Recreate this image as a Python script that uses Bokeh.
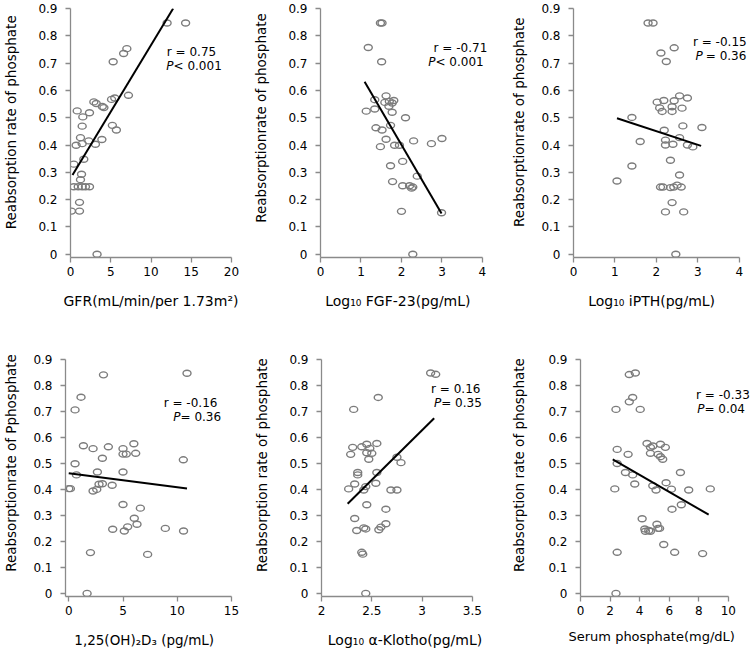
from bokeh.plotting import figure
from bokeh.layouts import column, row
from bokeh.models import FixedTicker, NumeralTickFormatter, Label, Range1d, Title
from bokeh.embed import file_html
from bokeh.resources import INLINE

FONT = "DejaVu Sans"
NBSP = "\u00a0"

# ---------------- data ----------------
y_ticks = [0, 0.1, 0.2, 0.3, 0.4, 0.5, 0.6, 0.7, 0.8, 0.9]

# Panel 1: GFR
gfr_x = [0.83, 2.9, 3.2, 3.95, 4.15, 5.1, 5.5, 7.2, 2.36, 1.53, 1.45, 5.2, 5.7, 1.24, 0.7,
         1.45, 2.27, 3.1, 3.9, 0.41, 1.65, 1.37, 1.24, 0.41, 0.96, 1.45, 1.86, 2.36, 1.12,
         0.12, 1.12, 5.3, 6.6, 7.0, 12.0, 14.3, 3.3]
gfr_y = [0.525, 0.558, 0.552, 0.541, 0.537, 0.567, 0.572, 0.582, 0.518, 0.503, 0.469, 0.472,
         0.455, 0.427, 0.399, 0.405, 0.415, 0.403, 0.42, 0.33, 0.348, 0.293, 0.273, 0.247,
         0.247, 0.247, 0.247, 0.247, 0.19, 0.158, 0.158, 0.705, 0.735, 0.753, 0.847, 0.847, 0.0]
gfr_fit_x = [0.25, 12.75]
gfr_fit_y = [0.29, 0.9]

# Panel 2: Log10 FGF-23
fgf_x = [1.48, 1.52, 1.18, 1.51, 1.62, 1.34, 1.59, 1.70, 1.81, 1.77, 1.69, 1.34, 1.13, 1.77,
         2.10, 1.37, 1.52, 1.73, 1.62, 1.48, 1.83, 1.95, 2.30, 2.74, 3.0, 1.73, 2.03, 2.39,
         1.78, 2.03, 2.2, 2.25, 2.28, 2.0, 2.99, 2.28]
fgf_y = [0.847, 0.847, 0.757, 0.705, 0.58, 0.566, 0.556, 0.56, 0.563, 0.554, 0.542, 0.532,
         0.524, 0.52, 0.50, 0.463, 0.455, 0.472, 0.421, 0.394, 0.399, 0.399, 0.415, 0.405,
         0.424, 0.324, 0.34, 0.286, 0.266, 0.251, 0.251, 0.242, 0.246, 0.157, 0.152, 0.0]
fgf_fit_x = [1.09, 2.99]
fgf_fit_y = [0.632, 0.149]

# Panel 3: Log10 iPTH
pth_x = [1.80, 1.92, 2.43, 2.11, 2.24, 2.02, 2.18, 2.08, 2.14, 2.56, 2.75, 2.43, 2.38, 2.38,
         2.62, 1.41, 2.64, 3.10, 2.19, 1.61, 2.22, 2.56, 2.22, 2.40, 2.75, 2.88, 2.34, 1.41,
         1.05, 2.56, 2.10, 2.16, 2.34, 2.42, 2.50, 2.60, 2.38, 2.22, 2.66, 2.47]
pth_y = [0.847, 0.847, 0.756, 0.737, 0.706, 0.557, 0.563, 0.536, 0.523, 0.58, 0.572, 0.562,
         0.54, 0.523, 0.535, 0.501, 0.47, 0.464, 0.454, 0.413, 0.418, 0.427, 0.40, 0.403,
         0.40, 0.393, 0.344, 0.323, 0.268, 0.29, 0.246, 0.246, 0.244, 0.246, 0.253, 0.246,
         0.189, 0.155, 0.155, 0.0]
pth_fit_x = [1.05, 3.08]
pth_fit_y = [0.498, 0.397]

# Panel 4: 1,25(OH)2D3
vd_x = [3.2, 10.9, 1.13, 0.58, 1.35, 2.24, 3.65, 5.0, 6.0, 3.1, 5.0, 5.3, 6.17, 10.56, 0.58,
        0.71, 2.64, 5.0, 0.0, 0.15, 2.24, 2.58, 2.79, 3.1, 4.0, 5.0, 6.6, 6.04, 6.29, 4.05,
        5.43, 5.12, 8.9, 10.58, 2.0, 7.27, 1.69]
vd_y = [0.841, 0.847, 0.755, 0.706, 0.568, 0.557, 0.564, 0.557, 0.576, 0.52, 0.536, 0.536,
        0.539, 0.514, 0.499, 0.456, 0.467, 0.467, 0.403, 0.403, 0.394, 0.40, 0.42, 0.422,
        0.416, 0.342, 0.328, 0.289, 0.266, 0.247, 0.256, 0.24, 0.25, 0.24, 0.157, 0.150, 0.0]
vd_fit_x = [0.0, 10.9]
vd_fit_y = [0.462, 0.404]

# Panel 5: Log10 alpha-Klotho
kl_x = [3.085, 3.135, 2.564, 2.32, 2.31, 2.29, 2.40, 2.45, 2.48, 2.45, 2.50, 2.55, 2.47, 2.75,
        2.79, 2.36, 2.36, 2.55, 2.33, 2.27, 2.42, 2.44, 2.54, 2.69, 2.75, 2.45, 2.64, 2.33,
        2.35, 2.42, 2.44, 2.57, 2.59, 2.64, 2.40, 2.41, 2.44]
kl_y = [0.848, 0.843, 0.754, 0.708, 0.562, 0.535, 0.564, 0.574, 0.558, 0.541, 0.539, 0.577,
        0.516, 0.524, 0.503, 0.465, 0.456, 0.465, 0.421, 0.402, 0.398, 0.411, 0.424, 0.398,
        0.398, 0.341, 0.324, 0.288, 0.242, 0.252, 0.248, 0.245, 0.255, 0.268, 0.158, 0.151, 0.0]
kl_fit_x = [2.26, 3.12]
kl_fit_y = [0.345, 0.674]

# Panel 6: Serum phosphate
sp_x = [3.3, 3.71, 3.53, 3.3, 2.40, 4.04, 2.48, 3.22, 4.50, 4.73, 4.89, 4.73, 5.41, 5.74, 5.25,
        5.41, 5.56, 2.48, 3.04, 3.53, 3.67, 2.32, 4.89, 5.11, 5.79, 6.15, 6.76, 7.32, 8.78,
        6.82, 6.19, 4.17, 4.35, 4.39, 4.62, 4.73, 5.17, 5.24, 5.35, 5.63, 2.48, 6.37, 8.26, 2.40]
sp_y = [0.842, 0.848, 0.754, 0.737, 0.708, 0.708, 0.554, 0.535, 0.577, 0.562, 0.567, 0.539,
        0.574, 0.562, 0.535, 0.526, 0.516, 0.50, 0.465, 0.456, 0.421, 0.402, 0.414, 0.398,
        0.426, 0.401, 0.465, 0.398, 0.402, 0.341, 0.324, 0.287, 0.248, 0.239, 0.242, 0.239,
        0.266, 0.25, 0.25, 0.188, 0.158, 0.158, 0.153, 0.0]
sp_fit_x = [2.18, 8.67]
sp_fit_y = [0.516, 0.303]

x_ticks_gfr = [0, 5, 10, 15, 20]
x_ticks_fgf = [0, 1, 2, 3, 4]
x_ticks_pth = [0, 1, 2, 3, 4]
x_ticks_vd = [0, 5, 10, 15]
x_ticks_kl = [2, 2.5, 3, 3.5]
x_ticks_sp = [0, 2, 4, 6, 8, 10]

AXIS_GRAY = "#8a8a8a"
PT_GRAY = "#7c7c7c"


def panel(xs, ys, fx, fy, xr, xbounds, xticks, xlabel, ylabel, r_text, p_text,
          width, height, left, right, top, bottom, ylab_std, ylab_pad, xlab_std, xlab_pad,
          r_pos, p_pos, p_gap=0, xlab_title_offset=None, xlab_size="14px"):
    p = figure(width=width, height=height, output_backend="svg", toolbar_location=None,
               x_range=Range1d(*xr), y_range=Range1d(-0.012, 0.9),
               min_border_left=left, min_border_right=right,
               min_border_top=top, min_border_bottom=bottom)
    p.grid.visible = False
    p.outline_line_color = None
    p.background_fill_color = "white"
    p.border_fill_color = "white"
    for ax in (p.xaxis[0], p.yaxis[0]):
        ax.axis_line_color = AXIS_GRAY
        ax.axis_line_width = 1.3
        ax.major_tick_line_color = AXIS_GRAY
        ax.major_tick_line_width = 1.3
        ax.major_tick_out = 5
        ax.major_tick_in = 0
        ax.minor_tick_line_color = None
        ax.major_label_text_font = FONT
        ax.major_label_text_font_size = "12px"
        ax.major_label_text_color = "black"
        ax.formatter = NumeralTickFormatter(format="0.[0]")
        ax.axis_label_text_font = FONT
        ax.axis_label_text_font_style = "normal"
        ax.axis_label_text_color = "black"
    p.xaxis.ticker = FixedTicker(ticks=xticks)
    p.yaxis.ticker = FixedTicker(ticks=y_ticks)
    p.xaxis.bounds = xbounds
    p.yaxis.bounds = (-0.012, 0.9)
    p.xaxis.major_label_standoff = 4
    p.yaxis.major_label_standoff = 8
    if xlab_title_offset is None:
        p.xaxis.axis_label = xlabel + NBSP * xlab_pad
        p.xaxis.axis_label_text_font_size = xlab_size
        p.xaxis.axis_label_standoff = xlab_std
    else:
        p.add_layout(Title(text=xlabel, align="left", offset=xlab_title_offset,
                           vertical_align="bottom", standoff=xlab_std,
                           text_font=FONT, text_font_size=xlab_size,
                           text_font_style="normal", text_color="black"), "below")
    p.yaxis.axis_label = NBSP * ylab_pad + ylabel
    p.yaxis.axis_label_text_font_size = "13.5px"
    p.yaxis.axis_label_standoff = ylab_std

    p.ellipse(x=xs, y=ys, width=8, height=6, width_units="screen", height_units="screen",
              fill_color=None, line_color=PT_GRAY, line_width=1.4)
    p.line(fx, fy, line_color="black", line_width=2)

    p.add_layout(Label(x=r_pos[0], y=r_pos[1], text=r_text, text_align="right",
                       text_baseline="middle", text_font=FONT, text_font_size="12px",
                       text_color="black"))
    p.add_layout(Label(x=p_pos[0], y=p_pos[1], text="P", text_align="right",
                       text_baseline="middle", text_font=FONT, text_font_size="12px",
                       text_font_style="italic", text_color="black"))
    p.add_layout(Label(x=p_pos[0], y=p_pos[1], text=p_text, text_align="left",
                       x_offset=p_gap, text_baseline="middle", text_font=FONT,
                       text_font_size="12px", text_color="black"))
    return p


H1 = 323
H2 = 330
p1 = panel(gfr_x, gfr_y, gfr_fit_x, gfr_fit_y, (0, 20), (0, 20), x_ticks_gfr,
           "GFR(mL/min/per 1.73m²)", "Reabsorption rate of phosphate", "r = 0.75", "< 0.001",
           250, H1, 70, 19, 8, 66, 16, 5, 14, 0, (18.1, 0.739), (12.8, 0.688))
p2 = panel(fgf_x, fgf_y, fgf_fit_x, fgf_fit_y, (0, 4.15), (0, 4), x_ticks_fgf,
           "Log₁₀ FGF-23(pg/mL)", "Reabsorptionrate of phosphate", "r = -0.71", "< 0.001",
           255, H1, 70, 17, 8, 66, 16, 7, 14, 3, (4.12, 0.755), (2.84, 0.704))
p3 = panel(pth_x, pth_y, pth_fit_x, pth_fit_y, (0, 4.2), (0, 4), x_ticks_pth,
           "Log₁₀ iPTH(pg/mL)", "Reabsorptionrate of phosphate", "r = -0.15", "= 0.36",
           247, H1, 68, 5, 8, 66, 11, 5, 14, 4, (4.18, 0.779), (3.12, 0.727), p_gap=3)
p4 = panel(vd_x, vd_y, vd_fit_x, vd_fit_y, (-0.3, 15), (-0.3, 15), x_ticks_vd,
           "1,25(OH)₂D₃ (pg/mL)", "Reabsorptionrate of Pphosphate", "r = -0.16", "= 0.36",
           250, H2, 65, 19, 36, 57, 11, 7, 14, 2, (13.7, 0.734), (10.3, 0.68),
           xlab_size="13.5px")
p5 = panel(kl_x, kl_y, kl_fit_x, kl_fit_y, (2, 3.66), (2, 3.5), x_ticks_kl,
           "Log₁₀ α-Klotho(pg/mL)", "Reabsorption rate of phosphate", "r = 0.16", "= 0.35",
           255, H2, 71, 17, 36, 57, 16, 6, 14, 0, (3.58, 0.785), (3.19, 0.732))
p6 = panel(sp_x, sp_y, sp_fit_x, sp_fit_y, (0, 11.5), (0, 10), x_ticks_sp,
           "Serum phosphate(mg/dL)", "Reabsorption rate of phosphate", "r = -0.33", "= 0.04",
           247, H2, 75, 2, 36, 57, 18, 6, 18, 0, (11.45, 0.762), (8.38, 0.709),
           xlab_title_offset=-12, xlab_size="13px")

layout = column(row(p1, p2, p3), row(p4, p5, p6))
open("out.html", "w").write(file_html(layout, INLINE))
